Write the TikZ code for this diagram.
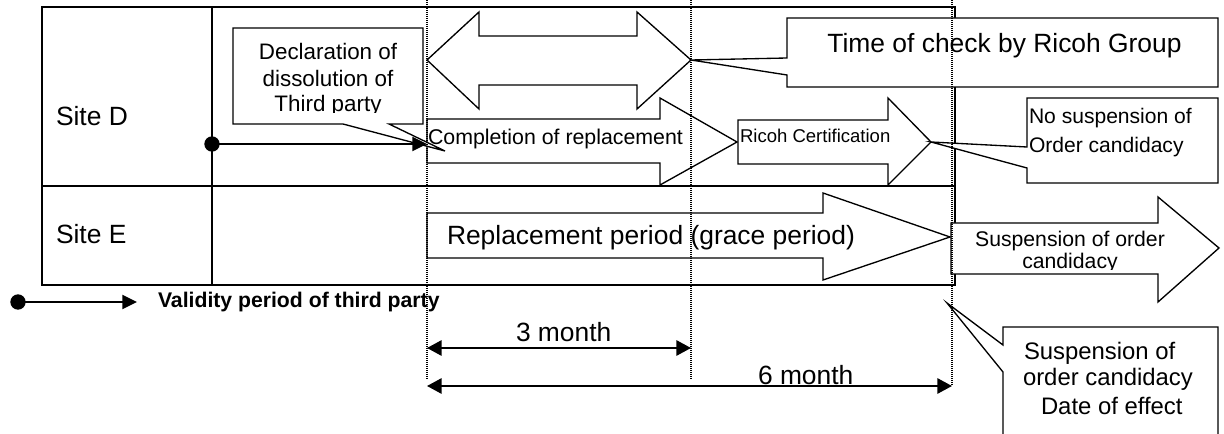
\documentclass[tikz,border=0pt]{standalone}
\usepackage{fontspec}
\setmainfont{Liberation Sans}
\usetikzlibrary{arrows.meta}
\newcommand\fsz[1]{\fontsize{#1}{#1}\selectfont}
\tikzset{
  tbl/.style={line width=1.5pt},
  shp/.style={draw, fill=white, line width=1pt, line join=miter},
  dotv/.style={line width=0.8pt, dash pattern=on 0.75pt off 0.75pt},
  txt/.style={inner sep=0pt, outer sep=0pt, anchor=base west},
  txtc/.style={inner sep=0pt, outer sep=0pt, anchor=base},
  conn/.style={line width=1.5pt, -{Triangle[length=11pt,width=10.5pt]}},
  dimarrow/.style={line width=1.5pt, {Triangle[length=11pt,width=11.5pt]}-{Triangle[length=11pt,width=11.5pt]}},
  blob/.style={fill=black, circle, inner sep=0pt, minimum size=11.5pt},
  big/.style={font=\fsz{19.8pt}},
}
\begin{document}
\begin{tikzpicture}[x=0.75pt,y=-0.75pt]
\useasboundingbox (0,0) rectangle (1224,434);
% table
\draw[tbl] (42,7) rectangle (955,285);
\draw[tbl] (212,7) -- (212,285);
\draw[tbl] (42,186) -- (955,186);

% double arrow (time of check)
\draw[shp] (427,60) -- (479,12) -- (479,36) -- (637,36) -- (637,12) -- (691,60)
  -- (637,109) -- (637,85) -- (479,85) -- (479,109) -- cycle;
% completion arrow
\draw[shp] (427,119) -- (660,119) -- (660,98) -- (737,142) -- (660,185) -- (660,163) -- (427,163) -- cycle;
% ricoh certification arrow
\draw[shp] (738,120) -- (888,120) -- (888,98) -- (931,142) -- (888,185) -- (888,164) -- (738,164) -- cycle;
% replacement period arrow
\draw[shp] (427,213) -- (823,213) -- (823,193) -- (950,237) -- (823,280) -- (823,258) -- (427,258) -- cycle;
% suspension arrow
\draw[shp] (951,223) -- (1158,223) -- (1158,197) -- (1219,248) -- (1158,302) -- (1158,274) -- (951,274) -- cycle;

% callouts
\draw[shp] (787,18) -- (1218,18) -- (1218,87) -- (787,87) -- (787,75) -- (691,60) -- (787,58) -- cycle;
\draw[shp] (1027,98) -- (1218,98) -- (1218,183) -- (1027,183) -- (1027,168) -- (931,142) -- (1027,147) -- cycle;
\draw[shp] (233,28) -- (423,28) -- (423,124) -- (389,124) -- (445,151) -- (343,124) -- (233,124) -- cycle;
\draw[shp] (1003,434) -- (1003,372) -- (947,303) -- (1003,345) -- (1003,327) -- (1218,327) -- (1218,434);

% validity arrows
\coordinate (dEnd) at (427,144);
\node[blob] (dotD) at (212,144) {};
\draw[conn] (dotD.center) -- (dEnd);
\coordinate (lEnd) at (137,302);
\node[blob] (dotL) at (18,302) {};
\draw[conn] (dotL.center) -- (lEnd);
\node[txt, font=\fsz{15.9pt}\bfseries] (legend) at (158,308) {Validity period of third party};

% texts
\node[txt, big] (siteD) at (56,126) {Site D};
\node[txt, big] (siteE) at (56,244) {Site E};
\begin{scope}
  \clip (233,28) rectangle (423,113);
  \node[txtc, font=\fsz{16.8pt}] (decl1) at (328,60) {Declaration of};
  \node[txtc, font=\fsz{16.8pt}] (decl2) at (328,87) {dissolution of};
  \node[txtc, font=\fsz{16.8pt}] (decl3) at (328,112) {Third party};
\end{scope}
\node[txtc, big] (check) at (1004.5,53) {Time of check by Ricoh Group};
\node[txt, font=\fsz{16pt}] (compl) at (428,145) {Completion of replacement};
\node[txt, font=\fsz{13.9pt}] (cert) at (740,143) {Ricoh Certification};
\node[txt, font=\fsz{15.8pt}] (nosusp1) at (1029,124) {No suspension of};
\node[txt, font=\fsz{15.8pt}] (nosusp2) at (1029,153) {Order candidacy};
\node[txt, big] (repl) at (447,245) {Replacement period (grace period)};
\begin{scope}
  \clip (951,223) rectangle (1220,270);
  \node[txtc, font=\fsz{15.9pt}] (susp1) at (1070,247) {Suspension of order};
  \node[txtc, font=\fsz{15.9pt}] (susp2) at (1070,269) {candidacy};
\end{scope}
\node[txt, font=\fsz{17.9pt}] (eff1) at (1024,360) {Suspension of};
\node[txt, font=\fsz{17.9pt}] (eff2) at (1023,386) {order candidacy};
\node[txt, font=\fsz{17.9pt}] (eff3) at (1041,414) {Date of effect};

% dimension arrows
\coordinate (m0) at (427,348);
\coordinate (m3) at (691,348);
\coordinate (n0) at (427,386);
\coordinate (n6) at (952,386);
\draw[dimarrow] (m0) -- (m3);
\draw[dimarrow] (n0) -- (n6);
\node[txt, big] (three) at (516,342) {3 month};
\node[txt, big] (six) at (758,384) {6 month};

% dotted guide lines
\draw[dotv] (427,0) -- (427,380);
\draw[dotv] (691,0) -- (691,380);
\draw[dotv] (952,0) -- (952,386);
\end{tikzpicture}
\end{document}
